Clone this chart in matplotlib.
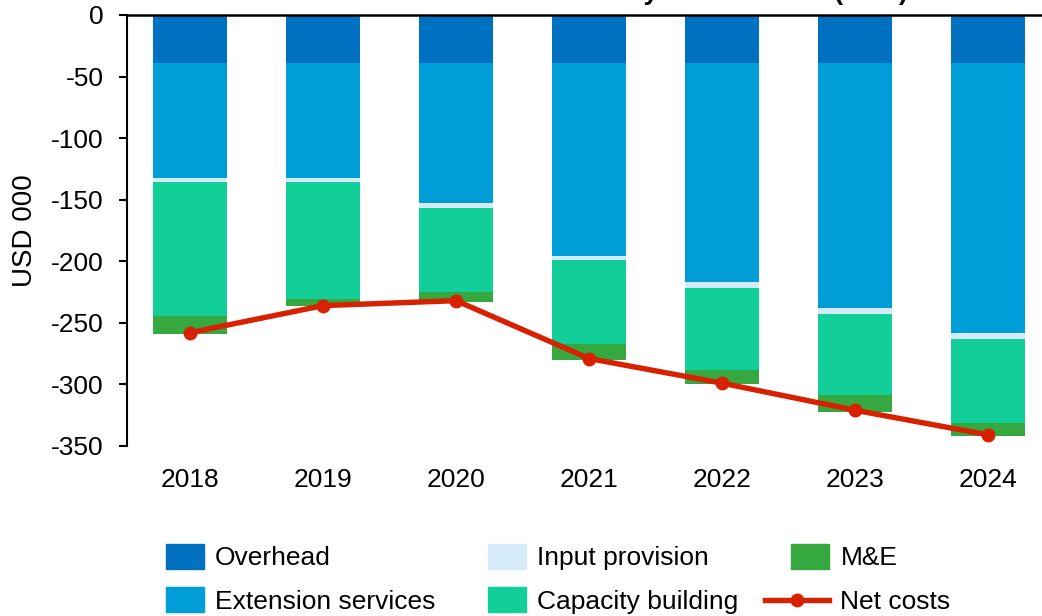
import matplotlib.pyplot as plt
from matplotlib.patches import Patch
from matplotlib.lines import Line2D
from matplotlib.legend_handler import HandlerBase

plt.rcParams['font.family'] = ['Liberation Sans', 'DejaVu Sans']
plt.rcParams['axes.unicode_minus'] = False

years = ['2018', '2019', '2020', '2021', '2022', '2023', '2024']
overhead = [-39, -39, -39, -39, -39, -39, -39]
extension = [-93.5, -93.5, -113.5, -156.5, -178, -199, -219]
input_prov = [-3.2, -3.2, -4, -3.5, -5, -5, -5.5]
capacity = [-109, -95, -68.5, -68, -66, -66, -67.5]
m_and_e = [-14.5, -5.5, -8, -13, -12, -13, -10.5]
net_costs = [-258, -236, -232, -279, -299, -321, -341]

colors = {
    'Overhead': '#0070C0',
    'Extension services': '#009ED8',
    'Input provision': '#D6EBFA',
    'Capacity building': '#12CF9A',
    'M&E': '#36A840',
}
red = '#D82100'


# legend entry for the line: longer than the square patches
class WideLine(HandlerBase):
    def create_artists(self, legend, orig_handle, xdescent, ydescent,
                       width, height, fontsize, trans):
        y = height / 2 - ydescent
        x0 = -xdescent - 0.7 * width
        x1 = width - xdescent
        line = Line2D([x0, x1], [y, y], color=red, lw=3.9, transform=trans)
        dot = Line2D([(x0 + x1) / 2], [y], marker='o', ms=9, color=red,
                     transform=trans)
        return [line, dot]


fig = plt.figure(figsize=(10.42, 6.16), dpi=100)
ax = fig.add_axes([0.1219, 0.276, 0.887, 0.6997])

x = range(len(years))
w = 0.56
bottom = [0] * len(years)
for name, vals in [('Overhead', overhead), ('Extension services', extension),
                   ('Input provision', input_prov), ('Capacity building', capacity),
                   ('M&E', m_and_e)]:
    ax.bar(x, vals, w, bottom=bottom, color=colors[name], linewidth=0, zorder=2)
    bottom = [b + v for b, v in zip(bottom, vals)]

ax.plot(x, net_costs, color=red, lw=3.9, marker='o', ms=9, zorder=3)

ax.set_xlim(-0.474, 6.474)
ax.set_ylim(-350, 0)
ax.set_yticks(range(-350, 1, 50))
ax.set_xticks(list(x))
ax.set_xticklabels(years)
ax.tick_params(axis='x', length=0, pad=16, labelsize=19)
ax.tick_params(axis='y', length=6, width=1.5, pad=11, labelsize=19)
ax.set_ylabel('USD 000', fontsize=20, labelpad=9)

for s in ['right', 'bottom']:
    ax.spines[s].set_visible(False)
ax.spines['top'].set_linewidth(1.8)
ax.spines['left'].set_linewidth(1.5)

fig.text(908 / 1042, 1.0, 'Net costs by cost element (USD)', ha='right',
         va='baseline', fontsize=19, fontweight='bold')

handles = [Patch(color=colors['Overhead']),
           Patch(color=colors['Extension services']),
           Patch(color=colors['Input provision']),
           Patch(color=colors['Capacity building']),
           Patch(color=colors['M&E']),
           Line2D([], [], color=red)]
labels = ['Overhead', 'Extension services', 'Input provision',
          'Capacity building', 'M&E', 'Net costs']
fig.legend(handles, labels, ncol=3, loc='upper left',
           bbox_to_anchor=(166 / 1042, 1 - 544 / 616), frameon=False,
           fontsize=19, handlelength=1.44, handleheight=1.06,
           handletextpad=0.42, columnspacing=2.0, labelspacing=0.65,
           borderpad=0, borderaxespad=0,
           handler_map={Line2D: WideLine()})

fig.savefig('out.png', dpi=100)
